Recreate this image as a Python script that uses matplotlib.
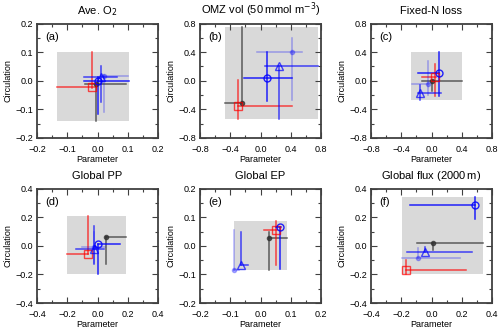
import numpy as np
import matplotlib.pyplot as plt
from matplotlib.ticker import MultipleLocator

plt.rcParams['font.family'] = ['Liberation Sans', 'DejaVu Sans']

titles = ['Ave. O$_2$', 'OMZ vol (50$\\,$mmol m$^{-3}$)', 'Fixed-N loss',
          'Global PP', 'Global EP', 'Global flux (2000$\\,$m)']
letters = ['(a)', '(b)', '(c)', '(d)', '(e)', '(f)']
limits = [0.2, 0.8, 0.8, 0.4, 0.2, 0.4]
major = [0.1, 0.4, 0.4, 0.2, 0.1, 0.2]

# grey box per panel: xmin, xmax, ymin, ymax
boxes = [(-0.135, 0.105, -0.14, 0.10),
         (-0.47, 0.76, -0.54, 0.75),
         (-0.27, 0.40, -0.265, 0.40),
         (-0.20, 0.19, -0.195, 0.21),
         (-0.087, 0.087, -0.086, 0.088),
         (-0.198, 0.342, -0.195, 0.346)]

# each entry per panel: x, y, x_lo, x_hi, y_lo, y_hi
red_sq = [(-0.018, -0.022, -0.135, -0.005, -0.025, 0.10),
          (-0.30, -0.36, -0.30, 0.415, -0.54, 0.01),
          (0.04, 0.05, -0.12, 0.06, -0.21, 0.24),
          (-0.065, -0.055, -0.20, -0.06, -0.055, 0.21),
          (0.052, 0.057, 0.013, 0.055, -0.066, 0.088),
          (-0.17, -0.167, -0.17, 0.225, -0.195, -0.10)]
black_pt = [(-0.005, -0.01, -0.04, 0.095, -0.14, -0.01),
            (-0.25, -0.31, -0.47, -0.24, -0.31, 0.75),
            (0.0, 0.0, -0.12, 0.40, -0.15, 0.0),
            (0.055, 0.065, 0.055, 0.19, -0.13, 0.065),
            (0.027, 0.029, 0.027, 0.087, -0.086, 0.048),
            (0.012, 0.022, -0.099, 0.342, -0.03, 0.022)]
blue_circ = [(0.0, 0.0, -0.043, 0.105, -0.115, 0.012),
             (0.08, 0.035, -0.22, 0.415, -0.29, 0.40),
             (0.10, 0.115, -0.18, 0.10, -0.22, 0.40),
             (0.0, 0.015, 0.0, 0.15, -0.195, 0.015),
             (0.063, 0.068, 0.05, 0.068, -0.08, 0.068),
             (0.285, 0.29, -0.143, 0.285, 0.19, 0.346)]
blue_tri = [(0.012, 0.012, -0.043, 0.066, -0.074, 0.05),
            (0.24, 0.20, 0.06, 0.76, -0.53, 0.20),
            (-0.155, -0.165, -0.18, 0.12, -0.265, -0.06),
            (-0.025, -0.025, -0.14, 0.04, -0.125, 0.14),
            (-0.064, -0.068, -0.064, -0.04, -0.068, 0.05),
            (-0.04, -0.043, -0.16, 0.265, -0.043, -0.01)]
lblue_pt = [(0.022, 0.017, 0.01, 0.10, -0.11, 0.02),
            (0.415, 0.40, -0.05, 0.55, -0.27, 0.60),
            (-0.05, -0.045, -0.26, -0.03, -0.20, 0.28),
            (-0.02, -0.01, -0.10, 0.05, -0.12, 0.10),
            (-0.087, -0.083, -0.087, -0.07, -0.083, 0.057),
            (-0.09, -0.083, -0.198, 0.187, -0.083, -0.013)]

series = [
    (black_pt, '#303030', 0.75, 'o', 3.0, True),
    (red_sq, '#ff0000', 0.7, 's', 6.0, False),
    (lblue_pt, '#0000ff', 0.3, 'o', 3.0, True),
    (blue_tri, '#0000ff', 0.7, '^', 6.0, False),
    (blue_circ, '#0000ff', 0.85, 'o', 5.0, False),
]

fig = plt.figure(figsize=(5.0, 3.29), dpi=100)
lefts = [0.074, 0.400, 0.742]
bottoms = [0.581, 0.079]
w, h = 0.242, 0.347

for i in range(6):
    ax = fig.add_axes([lefts[i % 3], bottoms[i // 3], w, h])
    lim = limits[i]
    ax.set_xlim(-lim, lim)
    ax.set_ylim(-lim, lim)
    b = boxes[i]
    ax.fill_between([b[0], b[1]], b[2], b[3], color='#d9d9d9', lw=0, zorder=0)
    for data, col, al, mk, ms, filled in series:
        x, y, xlo, xhi, ylo, yhi = data[i]
        ax.plot([xlo, xhi], [y, y], color=col, alpha=al, lw=1.1, zorder=2)
        ax.plot([x, x], [ylo, yhi], color=col, alpha=al, lw=1.1, zorder=2)
        ax.plot(x, y, marker=mk, ms=ms, color=col, alpha=al,
                mfc=col if filled else 'none', mew=1.0, zorder=3)
    ax.xaxis.set_major_locator(MultipleLocator(major[i]))
    ax.yaxis.set_major_locator(MultipleLocator(major[i]))
    ax.xaxis.set_minor_locator(MultipleLocator(major[i] / 2))
    ax.yaxis.set_minor_locator(MultipleLocator(major[i] / 2))
    ax.tick_params(which='both', direction='in', top=True, right=True,
                   labelsize=6.5, color='#404040', width=0.8)
    ax.tick_params(axis='x', which='major', pad=5)
    ax.tick_params(axis='y', which='major', pad=3)
    ax.tick_params(which='major', length=4)
    ax.tick_params(which='minor', length=2.5)
    for s in ax.spines.values():
        s.set_linewidth(1.3)
        s.set_color('#404040')
    ax.set_title(titles[i], fontsize=8, pad=7)
    ax.set_xlabel('Parameter', fontsize=6.5, labelpad=1)
    ax.set_ylabel('Circulation', fontsize=6.5, labelpad=2)
    ax.text(0.07, 0.93, letters[i], transform=ax.transAxes, fontsize=8,
            va='top', ha='left')

fig.savefig('out.png', dpi=100)
